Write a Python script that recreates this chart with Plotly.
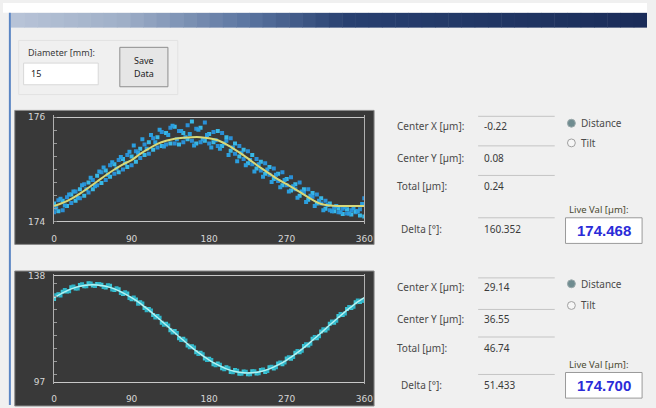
import plotly.graph_objects as go

W, H = 656, 408

# ---------------- data ----------------
tick_angles = [0, 90, 180, 270, 360]
tick_labels = ["0", "90", "180", "270", "360"]

line_angles = [0, 10, 20, 30, 40, 50, 60, 70, 80, 90, 100, 110, 120, 130, 140, 150, 160, 170, 180,
               190, 200, 210, 220, 230, 240, 250, 260, 270, 280, 290, 300, 310, 320, 330, 340, 350, 360]
pt_angles = [0, 5, 10, 15, 20, 25, 30, 35, 40, 45, 50, 55, 60, 65, 70, 75, 80, 85, 90, 95, 100, 105,
             110, 115, 120, 125, 130, 135, 140, 145, 150, 155, 160, 165, 170, 175, 180, 185, 190, 195,
             200, 205, 210, 215, 220, 225, 230, 235, 240, 245, 250, 255, 260, 265, 270, 275, 280, 285,
             290, 295, 300, 305, 310, 315, 320, 325, 330, 335, 340, 345, 350, 355, 360]
pt_angles_mid = [2.5, 7.5, 12.5, 17.5, 22.5, 27.5, 32.5, 37.5, 42.5, 47.5, 52.5, 57.5, 62.5, 67.5,
                 72.5, 77.5, 82.5, 87.5, 92.5, 97.5, 102.5, 107.5, 112.5, 117.5, 122.5, 127.5, 132.5,
                 137.5, 142.5, 147.5, 152.5, 157.5, 162.5, 167.5, 172.5, 177.5, 182.5, 187.5, 192.5,
                 197.5, 202.5, 207.5, 212.5, 217.5, 222.5, 227.5, 232.5, 237.5, 242.5, 247.5, 252.5,
                 257.5, 262.5, 267.5, 272.5, 277.5, 282.5, 287.5, 292.5, 297.5, 302.5, 307.5, 312.5,
                 317.5, 322.5, 327.5, 332.5, 337.5, 342.5, 347.5, 352.5, 357.5]

# top chart (distance, um)
top_fit = [174.30, 174.36, 174.44, 174.54, 174.65, 174.77, 174.89, 175.00, 175.10, 175.18, 175.30,
           175.40, 175.49, 175.55, 175.59, 175.61, 175.62, 175.62, 175.60, 175.56, 175.48, 175.38,
           175.27, 175.15, 175.03, 174.92, 174.81, 174.72, 174.62, 174.52, 174.42, 174.34, 174.31,
           174.30, 174.30, 174.30, 174.30]
top_pts_a = [174.18, 174.41, 174.22, 174.47, 174.36, 174.58, 174.45, 174.72, 174.56, 174.80, 174.70,
             174.95, 174.80, 175.08, 174.92, 175.18, 175.00, 175.28, 175.08, 175.35, 175.22, 175.48,
             175.30, 175.60, 175.42, 175.72, 175.48, 175.80, 175.50, 175.74, 175.52, 175.85, 175.55,
             175.78, 175.52, 175.90, 175.50, 175.72, 175.45, 175.70, 175.55, 175.60, 175.30, 175.45,
             175.20, 175.35, 175.10, 175.20, 174.98, 175.12, 174.90, 175.02, 174.78, 174.95, 174.70,
             174.85, 174.62, 174.75, 174.55, 174.62, 174.48, 174.52, 174.35, 174.40, 174.22, 174.28,
             174.18, 174.25, 174.16, 174.22, 174.18, 174.24, 174.45]
top_pts_b = [174.35, 174.20, 174.40, 174.30, 174.52, 174.40, 174.62, 174.50, 174.75, 174.62, 174.88,
             174.74, 174.98, 174.86, 175.10, 174.95, 175.20, 175.05, 175.25, 175.15, 175.40, 175.28,
             175.52, 175.38, 175.62, 175.45, 175.70, 175.50, 175.82, 175.48, 175.70, 175.58, 175.92,
             175.50, 175.80, 175.55, 175.68, 175.52, 175.74, 175.45, 175.62, 175.36, 175.50, 175.25,
             175.38, 175.12, 175.28, 175.02, 175.15, 174.92, 175.05, 174.82, 174.92, 174.70, 174.82,
             174.60, 174.72, 174.50, 174.62, 174.42, 174.55, 174.35, 174.45, 174.25, 174.35, 174.20,
             174.26, 174.15, 174.24, 174.14, 174.20, 174.12, 174.10]
top_pts_c = [174.26, 174.44, 174.31, 174.52, 174.58, 174.46, 174.70, 174.62, 174.84, 174.68, 174.96,
             175.04, 174.90, 175.14, 175.02, 175.24, 175.12, 175.34, 175.46, 175.32, 175.58, 175.40,
             175.66, 175.52, 175.76, 175.44, 175.66, 175.84, 175.58, 175.74, 175.62, 175.68, 175.46,
             175.76, 175.58, 175.66, 175.42, 175.56, 175.40, 175.50, 175.28, 175.42, 175.16, 175.32,
             175.08, 175.18, 174.96, 175.10, 174.86, 175.00, 174.76, 174.90, 174.66, 174.80, 174.58,
             174.68, 174.46, 174.58, 174.38, 174.50, 174.30, 174.40, 174.22, 174.32, 174.20, 174.30,
             174.18, 174.28, 174.16, 174.26, 174.20, 174.34]

# bottom chart
bot_fit = [129.6, 131.5, 133.0, 134.0, 134.5, 134.5, 134.0, 133.0, 131.5, 129.6, 127.4, 124.8, 122.0,
           119.1, 116.1, 113.2, 110.4, 107.9, 105.6, 103.7, 102.2, 101.2, 100.7, 100.7, 101.2, 102.2,
           103.7, 105.6, 107.9, 110.4, 113.2, 116.1, 119.1, 122.0, 124.8, 127.4, 129.6]
bot_pts_a = [129.1, 130.9, 131.9, 132.0, 133.6, 133.2, 134.5, 134.0, 135.2, 134.3, 134.9, 134.6, 133.5,
             134.2, 132.6, 132.9, 131.0, 131.2, 129.0, 128.9, 127.9, 125.6, 125.3, 122.9, 122.6, 120.0,
             119.6, 117.1, 116.8, 114.0, 113.8, 111.2, 110.9, 108.6, 108.4, 106.2, 106.1, 104.0, 104.3,
             102.4, 102.8, 101.0, 101.8, 100.3, 101.2, 100.1, 101.3, 100.4, 101.8, 101.0, 102.8, 102.3,
             104.3, 104.0, 106.2, 106.1, 108.4, 108.6, 111.0, 111.2, 113.8, 114.0, 116.6, 117.0, 119.6,
             120.0, 122.6, 122.9, 125.3, 125.6, 127.9, 128.0, 128.4]
bot_pts_b = [130.6, 130.5, 132.6, 132.1, 133.9, 133.2, 134.8, 134.0, 135.1, 134.1, 134.9, 133.7, 134.4,
             132.8, 133.3, 131.4, 131.7, 129.5, 129.7, 127.3, 127.4, 124.8, 124.7, 122.0, 121.9, 119.2,
             118.9, 116.2, 116.0, 113.3, 113.1, 110.5, 110.4, 107.9, 107.8, 105.6, 105.6, 103.6, 103.8,
             102.0, 102.4, 100.9, 101.5, 100.3, 101.1, 100.1, 101.3, 100.5, 101.9, 101.4, 103.0, 102.8,
             104.6, 104.6, 106.7, 106.8, 109.1, 109.2, 111.7, 111.9, 114.5, 114.8, 117.5, 117.7, 120.4,
             120.7, 123.3, 123.5, 126.0, 126.1, 128.5, 128.5]

top_fields = ["Center X [µm]:", "Center Y [µm]:", "Total [µm]:", "Delta [°]:"]
top_values = ["-0.22", "0.08", "0.24", "160.352"]
top_live = "174.468"
bot_fields = ["Center X [µm]:", "Center Y [µm]:", "Total [µm]:", "Delta [°]:"]
bot_values = ["29.14", "36.55", "46.74", "51.433"]
bot_live = "174.700"

# ---------------- helpers ----------------
def fx(x):
    return x / W

def fy(y):
    return 1 - y / H

shapes = []
annotations = []

def rect(x0, y0, x1, y1, fill, line=None, lw=1, layer="below"):
    shapes.append(dict(type="rect", xref="paper", yref="paper", x0=fx(x0), x1=fx(x1),
                       y0=fy(y1), y1=fy(y0), fillcolor=fill, layer=layer,
                       line=dict(color=line or "rgba(0,0,0,0)", width=lw if line else 0)))

def hline(x0, x1, y, color, w=1):
    shapes.append(dict(type="line", xref="paper", yref="paper", x0=fx(x0), x1=fx(x1),
                       y0=fy(y), y1=fy(y), line=dict(color=color, width=w), layer="below"))

def circle(cx, cy, r, fill, line):
    shapes.append(dict(type="circle", xref="paper", yref="paper", x0=fx(cx - r), x1=fx(cx + r),
                       y0=fy(cy + r), y1=fy(cy - r), fillcolor=fill, line=dict(color=line, width=1),
                       layer="above"))

def text(x, y, s, size=10, color="#3a3a3a", anchor="left", bold=False, family="Noto Sans"):
    annotations.append(dict(x=fx(x), y=fy(y), xref="paper", yref="paper", text=(f"<b>{s}</b>" if bold else s),
                            showarrow=False, xanchor=anchor, yanchor="middle",
                            font=dict(size=size, color=color, family=family)))

# window chrome
rect(0, 0, W, 10, "#ffffff")
stops = [(8, (184, 196, 216)), (120, (160, 176, 200)), (250, (90, 116, 160)), (350, (40, 64, 112)), (656, (26, 44, 88))]
n = 48
for i in range(n):
    xa = 8 + (W - 8) * i / n
    xb = 8 + (W - 8) * (i + 1) / n
    xm = (xa + xb) / 2
    for j in range(len(stops) - 1):
        if stops[j][0] <= xm <= stops[j + 1][0]:
            t = (xm - stops[j][0]) / (stops[j + 1][0] - stops[j][0])
            c = [round(stops[j][1][k] + t * (stops[j + 1][1][k] - stops[j][1][k])) for k in range(3)]
    rect(xa, 10, min(xb + 0.5, W), 25, "rgb(%d,%d,%d)" % tuple(c))
shapes.append(dict(type="line", xref="paper", yref="paper", x0=fx(7), x1=fx(7), y0=0, y1=fy(10),
                   line=dict(color="#5b86c4", width=2), layer="above"))

# diameter group
rect(16, 38, 178, 93, "rgba(0,0,0,0)", "#e2e2e2")
text(23, 50, "Diameter [mm]:", size=9)
rect(21, 61, 97, 83, "#ffffff", "#d8d8d8")
text(26, 72, "15", size=9, color="#222")
rect(119, 45, 168, 85, "#e6e6e6", "#8e8e8e")
text(143.5, 58, "Save", size=9, color="#222", anchor="center")
text(143.5, 72, "Data", size=9, color="#222", anchor="center")

# chart panels
rect(12, 109, 378, 245, "#393939", "#8a8a8a")
rect(12, 272, 378, 409, "#393939", "#8a8a8a")

# right-hand info panels
def info(y_labels, y_lines, fields, values, radio_y, live_y, live):
    for yl, f in zip(y_labels, fields):
        text(399 if not f.startswith("Delta") else 403, yl, f, color="#4a4a4a")
    for yl, v in zip(y_labels, values):
        text(488, yl, v, color="#3a3a3a")
    for yy in y_lines:
        hline(484, 562, yy, "#c4c4c4")
    circle(579, radio_y[0], 4, "#6f8c90", "#9aa8aa")
    circle(579, radio_y[1], 4, "#f6f6f6", "#a0a0a0")
    text(587, radio_y[0], "Distance", color="#4a4a4a")
    text(587, radio_y[1], "Tilt", color="#4a4a4a")
    text(575, live_y, "Live Val [µm]:", size=9.5, color="#4a4a30")
    rect(573, live_y + 8, 651, live_y + 34, "#ffffff", "#9a9a9a")
    text(612, live_y + 21, live, size=15, color="#2b2bd8", anchor="center", bold=True,
         family="Liberation Sans")

info([125, 157, 186, 229], [115, 145, 175, 218], top_fields, top_values, [122, 142], 210, top_live)
info([288, 321, 350, 388], [279, 311, 339, 377], bot_fields, bot_values, [285, 307], 367, bot_live)

# ---------------- traces ----------------
fig = go.Figure()
fig.add_trace(go.Scatter(x=pt_angles, y=top_pts_a, mode="markers", xaxis="x", yaxis="y",
                         marker=dict(size=4, symbol="square", color="#2a8fd6", line=dict(width=0))))
fig.add_trace(go.Scatter(x=pt_angles, y=top_pts_b, mode="markers", xaxis="x", yaxis="y",
                         marker=dict(size=4, symbol="square", color="#38b8e6", line=dict(width=0))))
fig.add_trace(go.Scatter(x=pt_angles_mid, y=top_pts_c, mode="markers", xaxis="x", yaxis="y",
                         marker=dict(size=4, symbol="square", color="#2b9ede", line=dict(width=0))))
fig.add_trace(go.Scatter(x=line_angles, y=top_fit, mode="lines", xaxis="x", yaxis="y",
                         line=dict(color="#d8d878", width=2, shape="spline")))

fig.add_trace(go.Scatter(x=pt_angles, y=bot_pts_a, mode="markers", xaxis="x2", yaxis="y2",
                         marker=dict(size=4, symbol="square", color="#3cc6d6", line=dict(width=0))))
fig.add_trace(go.Scatter(x=pt_angles_mid, y=bot_pts_b, mode="markers", xaxis="x2", yaxis="y2",
                         marker=dict(size=4, symbol="square", color="#2fb4c8", line=dict(width=0))))
fig.add_trace(go.Scatter(x=line_angles, y=bot_fit, mode="lines", xaxis="x2", yaxis="y2",
                         line=dict(color="#b4f2f2", width=1.5, shape="spline")))

tickfont = dict(size=9, color="#d6d6d6", family="DejaVu Sans")

def xax(dom_y_anchor):
    return dict(domain=[fx(52), fx(368)], range=[0, 360], tickvals=tick_angles, ticktext=tick_labels,
                showgrid=False, zeroline=False, showline=False, ticks="outside", ticklen=6,
                tickcolor="rgba(0,0,0,0)", tickfont=tickfont, anchor=dom_y_anchor, fixedrange=True)

def yax(y_top, y_bot, vmin, vmax, minor_dt, anchor):
    pad = (vmax - vmin) * 0.02
    ppu = (y_bot - y_top) / (vmax - vmin)
    return dict(domain=[fy(y_bot + pad * ppu), fy(y_top - pad * ppu)], range=[vmin - pad, vmax + pad],
                tickvals=[vmin, vmax], ticktext=[str(vmin), str(vmax)], showgrid=True,
                gridcolor="#c8c8c8", gridwidth=1, zeroline=False, showline=True, linecolor="#b0b0b0",
                linewidth=1, mirror=True, ticks="outside", ticklen=6, tickcolor="rgba(0,0,0,0)",
                tickfont=tickfont, anchor=anchor,
                minor=dict(ticks="inside", ticklen=3, tickcolor="#9a9a9a", dtick=minor_dt, showgrid=False),
                fixedrange=True)

fig.update_layout(
    width=W, height=H, margin=dict(l=0, r=0, t=0, b=0),
    paper_bgcolor="#f0f0f0", plot_bgcolor="rgba(0,0,0,0)", showlegend=False, hovermode=False,
    xaxis=xax("y"), yaxis=yax(116, 222, 174, 176, 0.25, "x"),
    xaxis2=xax("y2"), yaxis2=yax(277, 385, 97, 138, 5, "x2"),
    shapes=shapes, annotations=annotations,
)

fig.write_html("out.html", config={"displayModeBar": False},
               post_script="document.body.style.margin='0';document.body.style.overflow='hidden';")
